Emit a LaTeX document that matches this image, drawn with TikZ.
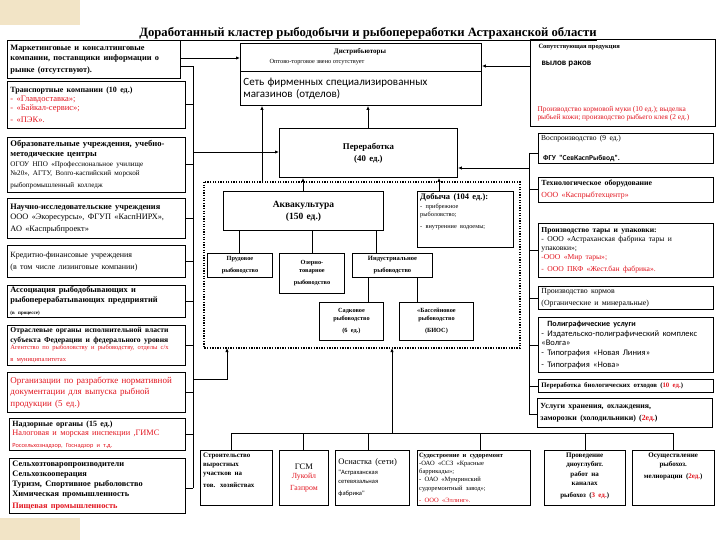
\documentclass[tikz,border=0pt]{standalone}
\usepackage{fontspec}
\setmainfont{Liberation Serif}
\newfontfamily\calfont{Carlito}
\usetikzlibrary{arrows.meta}
\definecolor{rd}{RGB}{225,20,30}
\definecolor{beige}{RGB}{242,228,198}
\newcommand\fs[2]{\fontsize{#1}{#2}\selectfont}
% box with text centred vertically
\newcommand\mybox[7][]{%
  \pgfmathsetmacro\bw{#5-#3}\pgfmathsetmacro\bh{#6-#4}\pgfmathsetmacro\tw{#5-#3-6}%
  \node[bx,minimum width=\bw pt,minimum height=\bh pt,text width=\tw pt,#1] (#2) at (#3,#4) {#7};}
% box with text at the top
\newcommand\tbox[7][]{%
  \pgfmathsetmacro\bw{#5-#3}\pgfmathsetmacro\bh{#6-#4}\pgfmathsetmacro\tw{#5-#3-6}%
  \node[bx,minimum width=\bw pt,minimum height=\bh pt] (#2) at (#3,#4) {};
  \node[anchor=north west,inner xsep=3pt,inner ysep=2.5pt,text width=\tw pt,align=left,#1] (#2-t) at (#2.north west) {#7};}
\begin{document}
\begin{tikzpicture}[x=1pt,y=-1pt,
  bx/.style={draw,line width=0.9pt,anchor=north west,inner xsep=3pt,inner ysep=1pt,align=left},
  ln/.style={line width=0.9pt},
  ar/.style={line width=0.9pt,-{Latex[length=4pt,width=3.4pt]}},
  dotbox/.style={line width=1.6pt,dash pattern=on 1.3pt off 1.3pt}]
\useasboundingbox (0,0) rectangle (720,540);
\fill[beige] (0,0) rectangle (80,25);
\fill[beige] (0,518) rectangle (80,540);

\node (title) at (368,34) {\fs{12.7}{14}\bfseries\underline{Доработанный кластер рыбодобычи и рыбопереработки Астраханской области}};

% ---------------- left column
\mybox{mark}{7}{40}{180}{78}{\fs{8.3}{10.5}\bfseries Маркетинговые и консалтинговые\\компании, поставщики информации о\\рынке (отсутствуют).}
\mybox{trans}{7}{81}{185}{128}{\fs{8}{10}\bfseries Транспортные компании (10 ед.)\par\mdseries\color{rd}\fs{8.5}{9}- «Главдоставка»;\\- «Байкал-сервис»;\\- «ПЭК».}
\mybox{edu}{7}{137}{185}{192}{\fs{8.6}{10}\bfseries Образовательные учреждения, учебно-\\методические центры\par\mdseries\fs{7.1}{9.3}ОГОУ НПО «Профессиональное училище\\№20», АГТУ, Волго-каспийский морской\\рыбопромышленный колледж}
\mybox{sci}{7}{198}{185}{238}{\fs{8.3}{10.5}\bfseries Научно-исследовательские учреждения\\\mdseries ООО «Экоресурсы», ФГУП «КаспНИРХ»,\\АО «Каспрыбпроект»}
\mybox{cred}{7}{245}{185}{277}{\fs{8}{10}Кредитно-финансовые учреждения\\(в том числе лизинговые компании)}
\mybox{assoc}{7}{285}{185}{315}{\fs{8.3}{10.5}\bfseries Ассоциация рыбодобывающих и\\рыбоперерабатывающих предприятий\par\fs{5}{5.5}(в процессе)}
\mybox{gov}{7}{325}{185}{365}{\fs{7.6}{9.5}\bfseries Отраслевые органы исполнительной власти\\субъекта Федерации и федерального уровня\par\mdseries\color{rd}\fs{6.5}{7.5}Агентство по рыболовству и рыбоводству, отделы с/х\\в муниципалитетах}
\mybox{norm}{7}{372}{185}{412}{\color{rd}\fs{9}{11}Организации по разработке нормативной\\документации для выпуска рыбной\\продукции (5 ед.)}
\mybox{nadz}{9}{418}{185}{450}{\fs{8}{10.5}\bfseries Надзорные органы (15 ед.)\par\mdseries\color{rd}\fs{8.3}{9}Налоговая и морская инспекции ,ГИМС\par\calfont\fs{6.3}{7}Россельхознадзор, Госнадзор и т.д.}
\mybox{selh}{9}{458}{185}{513}{\fs{8.3}{10}\bfseries Сельхозтоваропроизводители\\Сельхозкооперация\\Туризм, Спортивное рыболовство\\Химическая промышленность\\\color{rd}Пищевая промышленность}

% ---------------- distributors
\mybox[align=center]{distA}{240}{43}{481}{71}{}
\mybox{distB}{240}{71}{481}{105}{\calfont\fs{11}{14.5}Сеть фирменных специализированных\\магазинов (отделов)}
\node[font=\fs{7}{8}\bfseries] (distT) at (360,52) {Дистрибьюторы};
\node[font=\fs{6.3}{7}, anchor=west] (distS) at (266,62) {Оптово-торговое звено отсутствует};

% ---------------- side product
\mybox{side}{530}{39}{715}{126}{}
\node[font=\fs{6.5}{7}\bfseries, anchor=west] (sideT) at (535,47) {Сопутствующая продукция};
\node[font=\calfont\fs{9}{10}\bfseries, anchor=west] (sideC) at (538,64) {вылов раков};
\node[font=\fs{7.4}{8.2}, text=rd, anchor=west, align=left] (sideR) at (534,114) {Производство кормовой муки (10 ед.); выделка\\рыбьей кожи; производство рыбьего клея (2 ед.)};

% ---------------- processing
\mybox[align=center]{proc}{279}{128}{457}{177}{\fs{8.8}{12}\bfseries Переработка\\(40 ед.)}

% ---------------- dotted cluster
\draw[dotbox] (204,182) rectangle (520,348);
\coordinate (dtop) at (262,182);
\coordinate (dbotL) at (227,348);
\coordinate (dbotM) at (392,348);
\mybox[align=center]{aqua}{223}{191}{383}{230}{\fs{9.5}{12}\bfseries Аквакультура\\(150 ед.)}
\tbox{catch}{417}{191}{513}{247}{\fs{8.5}{9}\bfseries Добыча (104 ед.):\par\mdseries\fs{6.3}{8.5}- прибрежное\\рыболовство;\\- внутренние водоемы;}
\mybox[align=center,inner xsep=1pt]{pond}{207}{253}{272}{277}{\fs{6.3}{7.5}\bfseries Прудовое\\рыбоводство}
\mybox[align=center,inner xsep=1pt]{lake}{279}{253}{344}{293}{\fs{6.3}{8}\bfseries Озерно-\\товарное\\рыбоводство}
\mybox[align=center,inner xsep=1pt]{ind}{352}{253}{432}{277}{\fs{6.5}{7.8}\bfseries Индустриальное\\рыбоводство}
\mybox[align=center,inner xsep=1pt]{cage}{319}{302}{383}{340}{\fs{6.3}{8}\bfseries Садковое\\рыбоводство\\(6 ед.)}
\mybox[align=center,inner xsep=1pt]{pool}{399}{302}{473}{340}{\fs{6.3}{8}\bfseries «Бассейновое\\рыбоводство\\(БИОС)}

% ---------------- right column
\tbox{repro}{538}{133}{713}{163}{\fs{7.5}{9}Воспроизводство (9 ед.)\par\vspace{8pt}\calfont\bfseries\fs{7.5}{9}\hspace*{2pt}ФГУ "СевКаспРыбвод".}
\mybox{tech}{538}{177}{713}{202}{\fs{7.8}{9.5}\bfseries Технологическое оборудование\\\mdseries\color{rd}ООО «Каспрыбтехцентр»}
\mybox{tara}{538}{223}{713}{277}{\fs{7.6}{9.2}\bfseries Производство тары и упаковки:\\\mdseries- ООО «Астраханская фабрика тары и\\упаковки»;\\\color{rd}-ООО «Мир тары»;\\- ООО ПКФ «Жест.бан фабрика».}
\mybox{feed}{538}{286}{713}{309}{\fs{7.8}{9.5}Производство кормов\\(Органические и минеральные)}
\mybox{poly}{538}{317}{713}{372}{\calfont\fs{8}{9.5}\hspace*{6pt}\bfseries Полиграфические услуги\par\mdseries\fs{8.5}{9.5}- Издательско-полиграфический комплекс\\«Волга»\\- Типография «Новая Линия»\\- Типография «Нова»}
\mybox{bio}{538}{379}{713}{392}{\fs{6.8}{8}\bfseries Переработка биологических отходов ({\color{rd}10 ед.})}
\mybox{stor}{537}{398}{712}{427}{\fs{7.8}{9.5}\bfseries Услуги хранения, охлаждения,\\заморозки (холодильники) ({\color{rd}2ед.})}

% ---------------- bottom row
\tbox{build}{200}{450}{272}{505}{\fs{6.9}{9}\bfseries Строительство\\выростных\\участков на\\тов. хозяйствах}
\mybox[align=center]{gsm}{279}{450}{328}{505}{\fs{8.5}{10}ГСМ\par\color{rd}\fs{7.8}{9}Лукойл\\Газпром}
\mybox{osn}{335}{450}{409}{505}{\fs{8.5}{11}Оснастка (сети)\par\calfont\fs{6.5}{9.5}"Астраханская\\сетевязальная\\фабрика"}
\tbox[inner xsep=2pt]{ship}{417}{450}{530}{505}{\fs{6.5}{8.3}\bfseries Судостроение и судоремонт\\\mdseries -ОАО «ССЗ «Красные\\баррикады»;\\- ОАО «Мумринский\\судоремонтный завод»;\\\color{rd}- ООО «Эллинг».}
\tbox[align=center]{dredge}{544}{450}{625}{505}{\fs{7}{9.5}\bfseries Проведение\\дноуглубит.\\работ на\\каналах\\рыбохоз ({\color{rd}3 ед.})}
\tbox[align=center]{melio}{632}{450}{714}{505}{\fs{7}{9.5}\bfseries Осуществление\\рыбохоз.\\мелиорации ({\color{rd}2ед.})}

% ---------------- connectors
% left bus
\coordinate (lbusT) at (193,66);
\coordinate (lbusB) at (193,488);
\draw[ar] (mark.east |- 0,58) -- (distA.west |- 0,58);
\draw[ln] (mark.east |- lbusT) -- (lbusT) -- (lbusB);
\foreach \n in {trans,edu,sci,cred,assoc,gov,norm,nadz}{\draw[ln] (\n.east) -- (\n.east -| lbusT);}
\draw[ln] (selh.east |- lbusB) -- (lbusB);
\draw[ar] (lbusT |- 0,152) -- (proc.west |- 0,152);
\draw[ar] (lbusT |- 0,379) -- (dbotL |- 0,379) -- (dbotL);
% up to distributors
\draw[ar] (dtop) -- (dtop |- distB.south);
\draw[ar] (proc.north -| 368,0) -- (distB.south -| 368,0);
\draw[ar] (side.west |- 0,66) -- (distA.east |- 0,66);
% cluster to processing
\draw[ar] (aqua.north -| 303,0) -- (proc.south -| 303,0);
\draw[ar] (catch.north -| 439,0) -- (proc.south -| 439,0);
% aquaculture tree
\foreach \xx/\n in {239/pond,312/lake,376/ind}{\draw[ln] (aqua.south -| \xx,0) -- (\n.north -| \xx,0);}
\foreach \xx/\n in {368/cage,417/pool}{\draw[ln] (ind.south -| \xx,0) -- (\n.north -| \xx,0);}
% right bus
\coordinate (rbusT) at (529,153);
\coordinate (rbusB) at (529,414);
\draw[ln] (rbusT) -- (rbusB);
\draw[ln] (rbusT) -- (repro.west |- rbusT);
\foreach \n in {tech,tara,feed,poly,bio}{\draw[ln] (\n.west -| rbusT) -- (\n.west);}
\draw[ln] (rbusB) -- (stor.west |- rbusB);
\draw[ar] (rbusT |- 0,168) -- (proc.east |- 0,168);
% bottom bus
\coordinate (bbus) at (392,433);
\draw[ar] (bbus) -- (dbotM);
\draw[ln] (231,433) coordinate (bbL) -- (673,433) coordinate (bbR);
\foreach \xx/\n in {231/build,303/gsm,368/osn,480/ship,585/dredge,673/melio}{\draw[ln] (bbL -| \xx,0) -- (\n.north -| \xx,0);}
\end{tikzpicture}
\end{document}
